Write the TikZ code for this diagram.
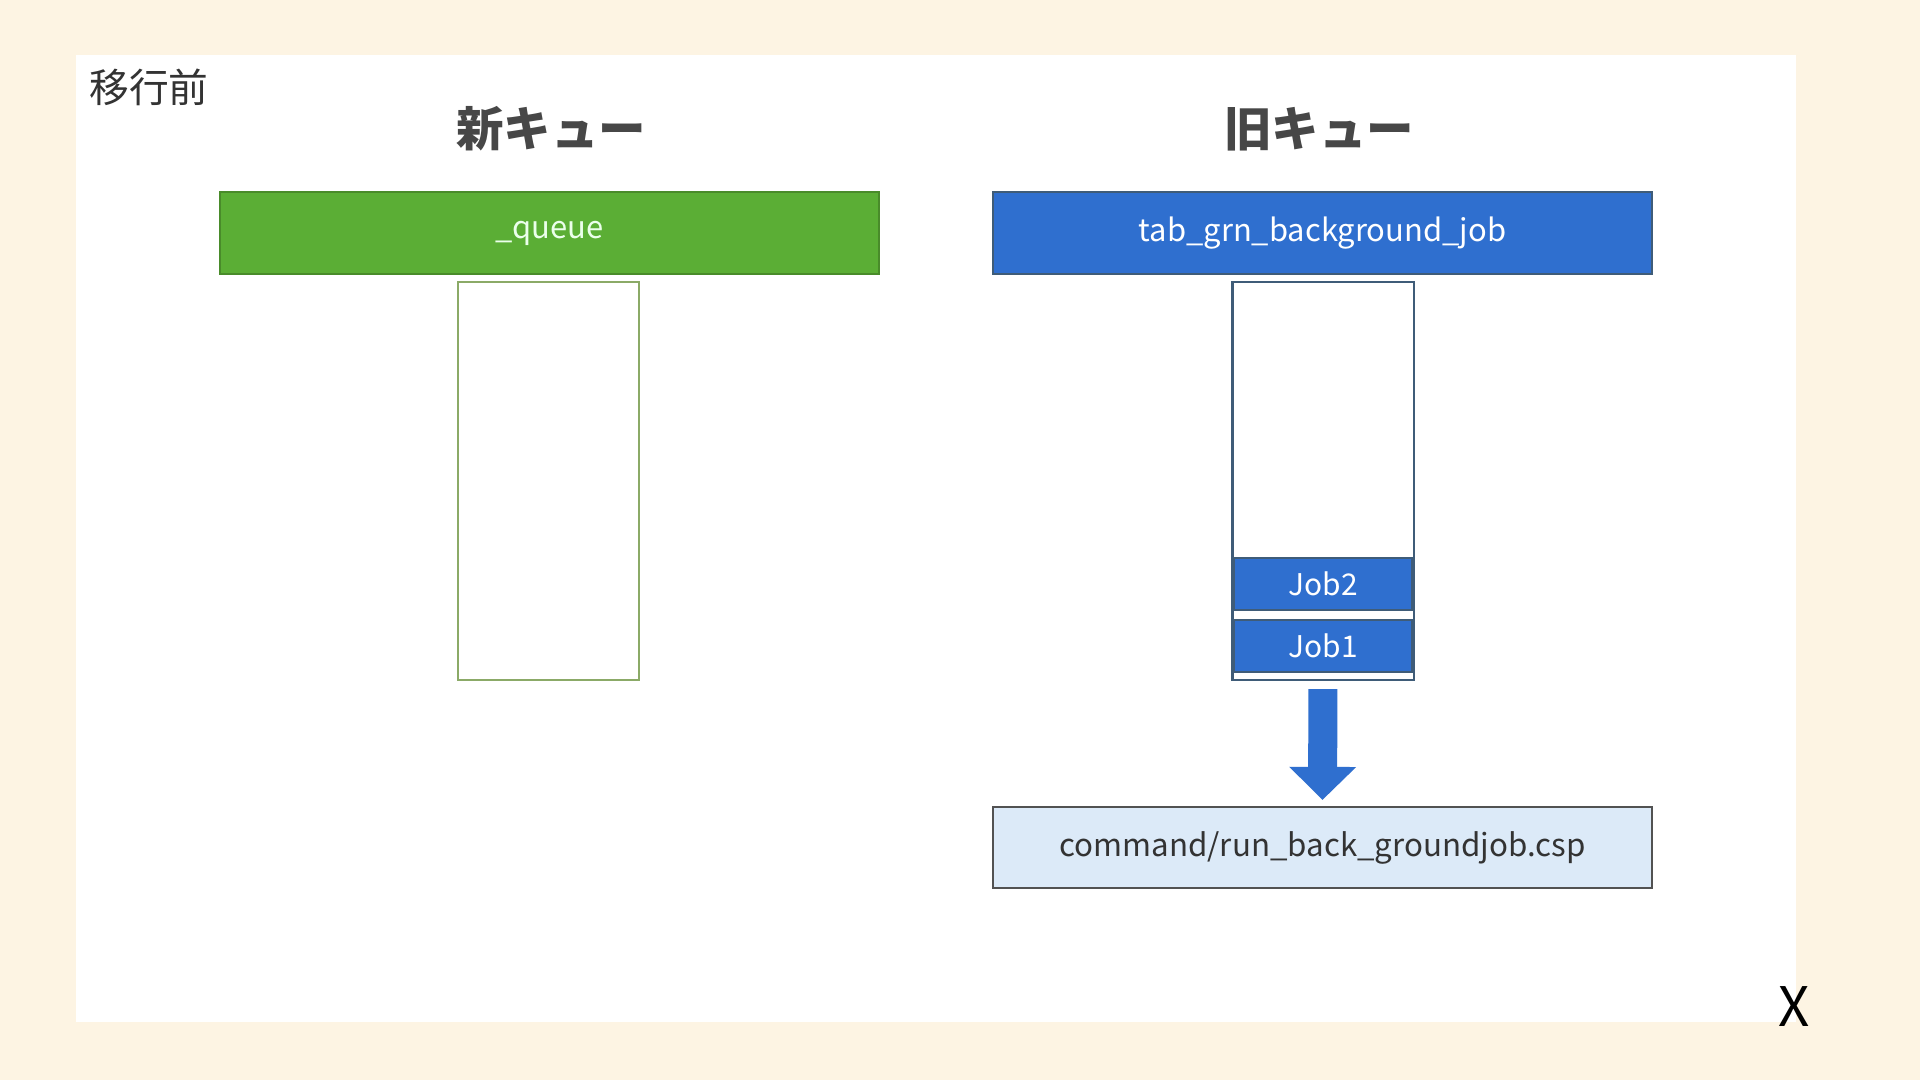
\documentclass[tikz,border=0pt]{standalone}
\usepackage{fontspec}
\setmainfont{Noto Sans CJK JP}
\usepackage{xcolor}
\usepackage{tikz}
\usetikzlibrary{arrows.meta}
\definecolor{pagebg}{HTML}{FDF4E3}
\definecolor{newgreen}{HTML}{5BAE35}
\definecolor{newedge}{HTML}{8BAA67}
\definecolor{oldblue}{HTML}{2F6FCF}
\definecolor{oldedge}{HTML}{3F5C78}
\definecolor{cmdfill}{HTML}{DCEAF8}
\definecolor{ink}{HTML}{333333}
\tikzset{
  headbar/.style={
    draw=black!35,
    line width=0.6pt,
    inner sep=0pt,
    minimum width=6.59cm,
    minimum height=0.82cm,
    font=\fontsize{8.8}{11}\selectfont
  },
  newbar/.style={fill=newgreen, draw=newgreen!80!black, text=green!8},
  oldbar/.style={fill=oldblue, draw=oldedge, text=white},
  stack/.style={
    line width=0.6pt,
    fill=white,
    inner sep=0pt,
    minimum width=1.81cm,
    minimum height=3.98cm
  },
  jobslot/.style={
    fill=oldblue,
    draw=oldedge,
    line width=0.5pt,
    text=white,
    inner sep=0pt,
    minimum width=1.78cm,
    minimum height=0.52cm,
    font=\fontsize{8.5}{10}\selectfont
  },
  cmdbox/.style={
    fill=cmdfill,
    draw=ink!85,
    line width=0.6pt,
    inner sep=0pt,
    minimum width=6.59cm,
    minimum height=0.81cm,
    text=ink,
    font=\fontsize{8.9}{11}\selectfont
  },
  coltitle/.style={font=\fontsize{13.5}{15}\selectfont\bfseries, text=ink!90},
  blockarrow/.style={
    draw=oldblue,
    line width=0.29cm,
    -{Triangle[width=0.65cm, length=0.33cm]},
    shorten <=0.08cm,
    shorten >=0.06cm
  }
}

\begin{document}
\begin{tikzpicture}[x=0.01cm,y=-0.01cm]
\path[use as bounding box] (0,0) rectangle (1920,1080);
\fill[pagebg] (0,0) rectangle (1920,1080);
\fill[white] (76,55) rectangle (1796,1022);

\node[anchor=west, font=\fontsize{11.3}{13}\selectfont, text=ink] (phase) at (77,87) {移行前};

% new queue
\node[coltitle] (newtitle) at (551,129) {新キュー};
\node[headbar, newbar] (newq) at (549.5,233) {\_queue};
\node[stack, draw=newedge] (newstack) at (548.5,481) {};

% old queue
\node[coltitle] (oldtitle) at (1319,129) {旧キュー};
\node[headbar, oldbar] (oldq) at (1322.5,233) {tab\_grn\_background\_job};
\node[stack, draw=oldedge] (oldstack) at (1323,481) {};
\node[jobslot] (job2) at (1323,584) {Job2};
\node[jobslot] (job1) at (1323,646) {Job1};

\node[cmdbox] (cmd) at (1322.5,847.5) {command/run\_back\_groundjob.csp};
\draw[blockarrow] (oldstack.south) -- (cmd.north);

\node[font=\fontsize{15.5}{17}\selectfont, text=black] (mark) at (1794,1007) {X};
\end{tikzpicture}
\end{document}
